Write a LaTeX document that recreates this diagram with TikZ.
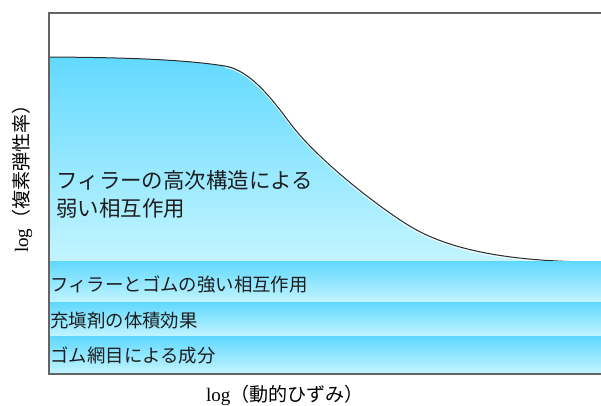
\documentclass[tikz,border=0pt]{standalone}
\usepackage{fontspec}
\setmainfont{Liberation Serif}
\newfontfamily\jpfont{Noto Sans CJK JP}
\definecolor{bandtop}{RGB}{98,217,255}
\definecolor{bandbot}{RGB}{196,245,255}
\definecolor{framegray}{RGB}{100,100,100}
\definecolor{curvegray}{RGB}{45,45,45}
\definecolor{textgray}{RGB}{30,30,30}
\tikzset{every picture/.style={line width=0.75pt}}
\tikzset{
  bandfill/.style={top color=bandtop, bottom color=bandbot, draw=none},
  bandlabel/.style={anchor=west, inner sep=0pt, text=textgray, font=\jpfont\fontsize{13.8}{16}\selectfont},
  axislabel/.style={inner sep=0pt, font=\fontsize{14.3}{17}\selectfont}
}

\begin{document}
\begin{tikzpicture}[x=0.75pt,y=0.75pt,yscale=-1,xscale=1]
\useasboundingbox (0,0) rectangle (601,406);

%Shape: Curve area [id:dp_area]
\shade [bandfill] (49,57) .. controls (120,57.5) and (180,59) .. (225,66) .. controls (250,70) and (272,99) .. (290,123) .. controls (318,161) and (385,212) .. (413,228) .. controls (460,255) and (530,262) .. (601,262) -- (49,262) -- cycle ;
%Curve Lines [id:da_highlight]
\draw [color=white, line width=0.6pt] (225,67.5) .. controls (250,71.5) and (272,100.5) .. (290,124.5) .. controls (318,162.5) and (385,213.5) .. (413,229.5) .. controls (460,256.5) and (530,263.5) .. (601,263.5) ;
%Curve Lines [id:da_curve]
\draw [color=curvegray] (49,57) .. controls (120,57.5) and (180,59) .. (225,66) .. controls (250,70) and (272,99) .. (290,123) .. controls (318,161) and (385,212) .. (413,228) .. controls (460,255) and (530,262) .. (601,262) ;
%Shape: Rectangle [id:dp_band1]
\shade [bandfill] (49,262) -- (601,262) -- (601,303) -- (49,303) -- cycle ;
%Shape: Rectangle [id:dp_band2]
\shade [bandfill] (49,303) -- (601,303) -- (601,337) -- (49,337) -- cycle ;
%Shape: Rectangle [id:dp_band3]
\shade [bandfill] (49,337) -- (601,337) -- (601,374) -- (49,374) -- cycle ;
%Straight Lines [id:da_frame]
\draw [color=framegray, line width=1pt] (601,13) -- (49,13) -- (49,374) -- (601,374) ;

% Text Node
\node (weak) [anchor=west, align=left, inner sep=0pt, text=textgray, font=\jpfont\fontsize{16.1}{21}\selectfont] at (56,194) {フィラーの高次構造による\\弱い相互作用};
% Text Node
\node (strong) [bandlabel] at (50,284) {フィラーとゴムの強い相互作用};
% Text Node
\node (volume) [bandlabel] at (50,321) {充塡剤の体積効果};
% Text Node
\node (network) [bandlabel] at (50,355) {ゴム網目による成分};
% Text Node
\node (ylabel) [axislabel, rotate=90] at (22,174) {log{\jpfont （複素弾性率）}};
% Text Node
\node (xlabel) [axislabel] at (285,395) {log{\jpfont （動的ひずみ）}};
\end{tikzpicture}
\end{document}
